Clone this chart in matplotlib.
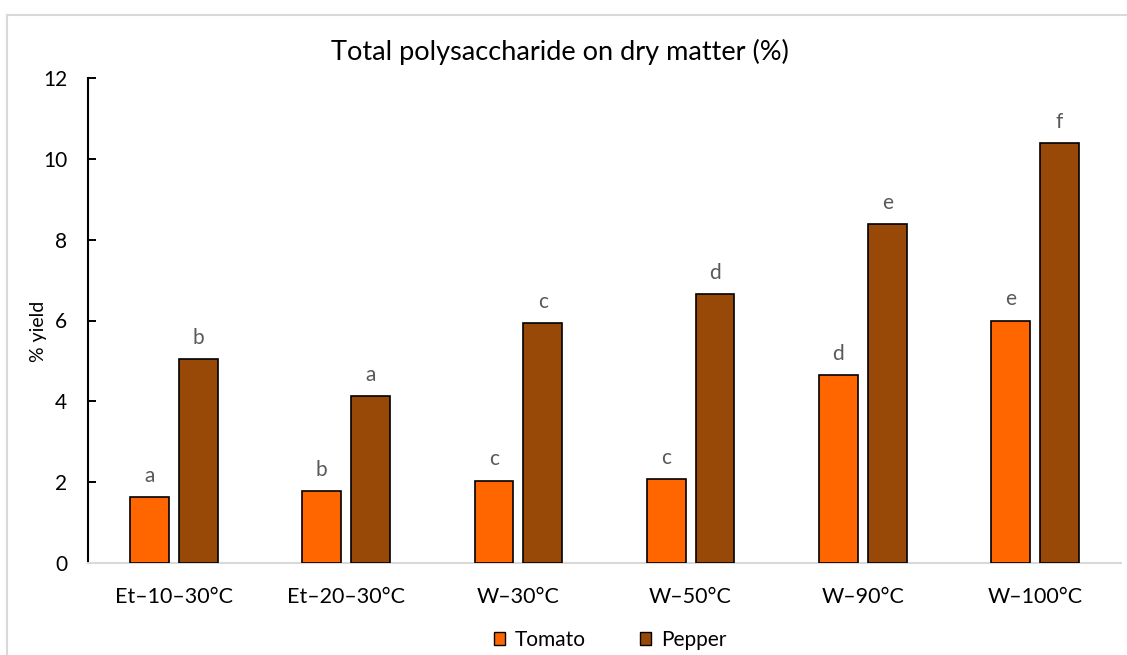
import matplotlib
matplotlib.use("Agg")
import matplotlib.pyplot as plt
import numpy as np
from matplotlib.lines import Line2D
from matplotlib.patches import Patch

categories = ["Et–10–30°C", "Et–20–30°C", "W–30°C", "W–50°C", "W–90°C", "W–100°C"]
tomato = [1.64, 1.79, 2.04, 2.08, 4.66, 6.00]
pepper = [5.04, 4.14, 5.93, 6.66, 8.39, 10.40]
tomato_letters = ["a", "b", "c", "c", "d", "e"]
pepper_letters = ["b", "a", "c", "d", "e", "f"]
yticks = [0, 2, 4, 6, 8, 10, 12]

plt.rcParams['font.family'] = ['Lato', 'DejaVu Sans']

W, H = 1127, 655
fig = plt.figure(figsize=(W / 100, H / 100), dpi=100)
ax = fig.add_axes([88 / W, 1 - 563 / H, (1121 - 88) / W, (563 - 78) / H])

x = np.arange(len(categories))
bw = 0.226
off = 0.142
c_tom = "#FF6600"
c_pep = "#984807"
ax.bar(x - off, tomato, bw, color=c_tom, edgecolor="black", linewidth=1.2, zorder=3)
ax.bar(x + off, pepper, bw, color=c_pep, edgecolor="black", linewidth=1.2, zorder=3)

for i in range(len(categories)):
    ax.annotate(tomato_letters[i], (x[i] - off, tomato[i]), xytext=(0, 8),
                textcoords="offset points", ha="center", va="bottom",
                fontsize=15, color="#595959")
    ax.annotate(pepper_letters[i], (x[i] + off, pepper[i]), xytext=(0, 8),
                textcoords="offset points", ha="center", va="bottom",
                fontsize=15, color="#595959")

ax.set_xlim(-0.5, len(categories) - 0.5)
ax.set_ylim(0, 12)
ax.set_yticks(yticks)
ax.set_yticklabels([str(t) for t in yticks], fontsize=15)
ax.set_xticks(x)
ax.set_xticklabels(categories, fontsize=15.5)
ax.tick_params(axis="x", length=0, pad=17)
ax.tick_params(axis="y", direction="in", length=6, width=1.4, color="black", pad=15)

for s in ["top", "right"]:
    ax.spines[s].set_visible(False)
ax.spines["left"].set_color("black")
ax.spines["left"].set_linewidth(1.5)
ax.spines["bottom"].set_color("#d9d9d9")
ax.spines["bottom"].set_linewidth(1.5)

ax.set_ylabel("% yield", fontsize=14)
ax.yaxis.set_label_coords(-0.0397, 0.478)

fig.text(560 / W, 1 - 52 / H, "Total polysaccharide on dry matter (%)",
         ha="center", va="center", fontsize=19.5)

handles = [Patch(facecolor=c_tom, edgecolor="black", linewidth=1.0, label="Tomato"),
           Patch(facecolor=c_pep, edgecolor="black", linewidth=1.0, label="Pepper")]
fig.legend(handles=handles, loc="center", bbox_to_anchor=(610 / W, 1 - 640 / H),
           ncol=2, frameon=False, fontsize=15, handlelength=0.55, handleheight=0.55,
           handletextpad=0.45, columnspacing=2.6)

# outer chart frame (light gray)
fig.add_artist(Line2D([7 / W, 1.0], [1 - 15 / H, 1 - 15 / H], color="#d9d9d9",
                      linewidth=1.5, transform=fig.transFigure))
fig.add_artist(Line2D([7 / W, 7 / W], [0.0, 1 - 15 / H], color="#d9d9d9",
                      linewidth=1.5, transform=fig.transFigure))

fig.savefig("out.png", dpi=100)
